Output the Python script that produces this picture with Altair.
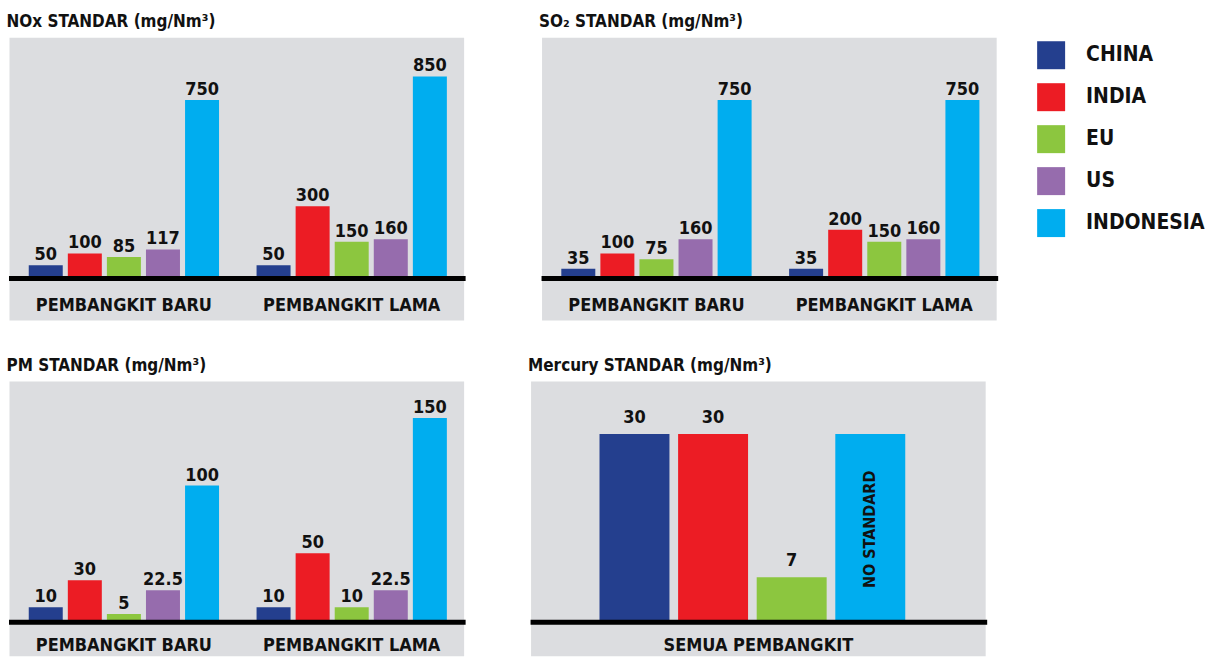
import altair as alt
import pandas as pd

# Countries compared in every panel, with their fixed colours
countries = ["CHINA", "INDIA", "EU", "US", "INDONESIA"]
country_colors = ["#243f8e", "#ec1c24", "#8cc63f", "#966cad", "#00adef"]
plant_groups = ["PEMBANGKIT BARU", "PEMBANGKIT LAMA"]

# Emission limits (mg/Nm3), in the order of `countries`
nox_baru = [50, 100, 85, 117, 750]
nox_lama = [50, 300, 150, 160, 850]
so2_baru = [35, 100, 75, 160, 750]
so2_lama = [35, 200, 150, 160, 750]
pm_baru = [10, 30, 5, 22.5, 100]
pm_lama = [10, 50, 10, 22.5, 150]

# Mercury: one group for all plants; Indonesia has no limit
mercury_group = "SEMUA PEMBANGKIT"
mercury_countries = ["CHINA", "INDIA", "EU", "INDONESIA"]
mercury_values = [30, 30, 7, None]
no_standard_text = "NO STANDARD"
no_standard_bar_height = 30

FONT = "Liberation Sans Narrow, DejaVu Sans Condensed, Roboto, sans-serif"
INK = "#111111"
PANEL_BG = "#dcdde0"
PANEL_W = 455
TOP_H = 283
BOTTOM_H = 275
ZERO_Y = 240

color_scale = alt.Scale(domain=countries, range=country_colors)


def panel_title(text):
    return alt.TitleParams(text=text, anchor="start", font=FONT, fontSize=17,
                           fontWeight="bold", color=INK, offset=6)


def zero_rule():
    return alt.Chart(pd.DataFrame({"z": [0]})).mark_rule(
        color="#000000", strokeWidth=5
    ).encode(x=alt.value(0), x2=alt.value(PANEL_W + 2), y=alt.value(ZERO_Y + 1.5))


def grouped_panel(title, baru, lama, top_value, height, label_y):
    df = pd.DataFrame({
        "group": [plant_groups[0]] * len(countries) + [plant_groups[1]] * len(countries),
        "country": countries * 2,
        "value": baru + lama,
    })
    df["label"] = [f"{v:g}" for v in df["value"]]

    x = alt.X("group:N", sort=plant_groups, axis=None,
              scale=alt.Scale(range=[1, PANEL_W + 2], paddingInner=0, paddingOuter=0))
    x_off = alt.XOffset("country:N", sort=countries,
                        scale=alt.Scale(paddingInner=0.13, paddingOuter=0.48))
    y = alt.Y("value:Q", axis=None,
              scale=alt.Scale(domain=[0, top_value], range=[ZERO_Y, 0]))

    base = alt.Chart(df).encode(x=x, xOffset=x_off)
    bars = base.mark_bar().encode(
        y=y, y2=alt.datum(0),
        color=alt.Color("country:N", scale=color_scale, legend=None),
    )
    values = base.mark_text(
        font=FONT, fontSize=18, fontWeight="bold", color=INK,
        baseline="alphabetic", dy=-5,
    ).encode(y=y, text="label:N")

    cats = alt.Chart(pd.DataFrame({"group": plant_groups})).mark_text(
        font=FONT, fontSize=18, fontWeight="bold", color=INK, baseline="alphabetic",
    ).encode(
        x=alt.X("group:N", sort=plant_groups, axis=None),
        y=alt.value(label_y),
        text="group:N",
    )

    return alt.layer(bars, values, zero_rule(), cats).properties(
        width=PANEL_W, height=height, title=panel_title(title),
        view=alt.ViewBackground(fill=PANEL_BG, stroke="transparent"),
    )


def mercury_panel(title, top_value, height, label_y):
    heights = [v if v is not None else no_standard_bar_height for v in mercury_values]
    df = pd.DataFrame({
        "country": mercury_countries,
        "value": heights,
        "label": [f"{v:g}" if v is not None else "" for v in mercury_values],
        "note": ["" if v is not None else no_standard_text for v in mercury_values],
        "mid": [h / 2 for h in heights],
    })
    x = alt.X("country:N", sort=mercury_countries, axis=None,
              scale=alt.Scale(range=[69, 375], paddingInner=0.11, paddingOuter=0))
    yscale = alt.Scale(domain=[0, top_value], range=[ZERO_Y, 0])
    y = alt.Y("value:Q", axis=None, scale=yscale)

    base = alt.Chart(df).encode(x=x)
    bars = base.mark_bar().encode(
        y=y, y2=alt.datum(0),
        color=alt.Color("country:N", scale=color_scale, legend=None),
    )
    values = base.mark_text(
        font=FONT, fontSize=18, fontWeight="bold", color=INK,
        baseline="alphabetic", dy=-11,
    ).encode(y=y, text="label:N")
    notes = base.mark_text(
        font=FONT, fontSize=16, fontWeight="bold", color=INK,
        angle=270, align="center", baseline="middle", dx=-2,
    ).encode(y=alt.Y("mid:Q", axis=None, scale=yscale), text="note:N")

    cat = alt.Chart(pd.DataFrame({"group": [mercury_group]})).mark_text(
        font=FONT, fontSize=18, fontWeight="bold", color=INK, baseline="alphabetic",
    ).encode(x=alt.value(228), y=alt.value(label_y), text="group:N")

    return alt.layer(bars, values, notes, zero_rule(), cat).properties(
        width=PANEL_W, height=height, title=panel_title(title),
        view=alt.ViewBackground(fill=PANEL_BG, stroke="transparent"),
    )


def legend_panel():
    leg = alt.Chart(pd.DataFrame({"country": countries}))
    ly = alt.Y("country:N", sort=countries, axis=None,
               scale=alt.Scale(type="point", range=[18, 186], padding=0))
    squares = leg.mark_square(size=784, opacity=1).encode(
        x=alt.value(14), y=ly,
        color=alt.Color("country:N", scale=color_scale, legend=None),
    )
    names = leg.mark_text(
        align="left", baseline="middle", font=FONT, fontSize=21,
        fontWeight="bold", color=INK,
    ).encode(x=alt.value(49), y=ly, text="country:N")
    return alt.layer(squares, names).properties(width=170, height=TOP_H)


nox = grouped_panel("NOx STANDAR (mg/Nm³)", nox_baru, nox_lama, 1016, TOP_H, 274)
so2 = grouped_panel("SO₂ STANDAR (mg/Nm³)", so2_baru, so2_lama, 1016, TOP_H, 274)
pm = grouped_panel("PM STANDAR (mg/Nm³)", pm_baru, pm_lama, 177.4, BOTTOM_H, 270)
mercury = mercury_panel("Mercury STANDAR (mg/Nm³)", 38.5, BOTTOM_H, 270)

top_row = alt.hconcat(
    nox, alt.hconcat(so2, legend_panel(), spacing=41, bounds="flush"),
    spacing=78, bounds="flush",
)
bottom_row = alt.hconcat(pm, mercury, spacing=67, bounds="flush")

chart = alt.vconcat(top_row, bottom_row, spacing=35).properties(
    padding={"left": 6, "top": 12, "right": 0, "bottom": 0},
    background="white",
).configure_view(stroke="transparent")

chart.save("out.html", embed_options={"renderer": "svg", "actions": False})
